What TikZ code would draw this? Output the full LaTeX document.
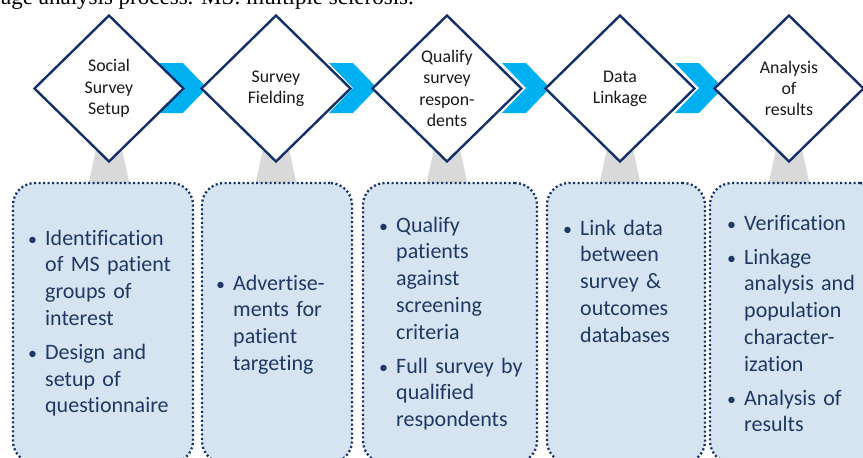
\documentclass[tikz,border=0pt]{standalone}
\usepackage{fontspec}
\setmainfont{Carlito}[Ligatures={NoCommon,NoRare}]
\newfontfamily\capfont{Liberation Serif}
\usetikzlibrary{shapes.geometric}

\definecolor{navy}{HTML}{1F3864}
\definecolor{edgeblue}{HTML}{14306A}
\definecolor{chev}{HTML}{00B0F0}
\definecolor{stem}{HTML}{D9D9D9}
\definecolor{panel}{HTML}{D6E4F2}

% bullet item with hanging indent; lines inside an item are split with \newline
\newcommand{\bulmark}{\makebox[13pt][l]{\hspace{-4pt}\fontsize{18}{18}\selectfont\textbullet}}
\newcommand{\li}[1]{\par\hangindent=13pt\hangafter=1\noindent\bulmark#1\par}
\newcommand{\gap}{\vspace{7.3pt}}

\tikzset{
  stage/.style={shape=diamond, draw=edgeblue, line width=2.4pt, fill=white,
    minimum width=150pt, minimum height=147pt, inner sep=0pt, align=center,
    text=black!90, font=\fontsize{17.8}{21.3}\selectfont},
  infobox/.style={draw=edgeblue, fill=panel, line width=2.3pt,
    dash pattern=on 2pt off 2.5pt, rounded corners=22pt, inner sep=0pt},
  listtext/.style={text=navy, font=\fontsize{22}{26.7}\selectfont,
    text width=170pt, align=left, inner sep=0pt, anchor=base west},
  chevron/.style={fill=chev, draw=none},
  stemshape/.style={fill=stem, draw=none}
}

\begin{document}
\begin{tikzpicture}[x=1pt, y=-1pt]
\useasboundingbox (0,0) rectangle (863,458);
\clip (0,0) rectangle (863,458);

% caption line running along the top edge
\node[anchor=base west, inner sep=0pt, font=\capfont\fontsize{23}{23}\selectfont]
  (caption) at (1,4) {age analysis process. MS: multiple sclerosis.};

% grey stems joining each stage to its panel
\foreach \cx in {109,276,447,620,789}{
  \fill[stemshape] (\cx-11,140) -- (\cx+11,140) -- (\cx+21,186) -- (\cx-21,186) -- cycle;
}

% detail panels
\node[infobox, minimum width=180pt, minimum height=280pt] (b1) at (103,323) {};
\node[infobox, minimum width=150pt, minimum height=280pt] (b2) at (277,323) {};
\node[infobox, minimum width=174pt, minimum height=280pt] (b3) at (450,323) {};
\node[infobox, minimum width=158pt, minimum height=280pt] (b4) at (626,323) {};
\node[infobox, minimum width=172pt, minimum height=280pt] (b5) at (796,323) {};

% chevrons between stages
\foreach \lx in {159,329,502,675}{
  \fill[chevron] (\lx,63) -- (\lx+24,63) -- (\lx+48,88) -- (\lx+24,113)
    -- (\lx,113) -- (\lx+24,88) -- cycle;
}

% stages
\node[stage] (s1) at (109,88.5) {Social\\Survey\\Setup};
\node[stage] (s2) at (276,88.5) {Survey\\Fielding};
\node[stage] (s3) at (447,88.5) {Qualify\\survey\\respon-\\dents};
\node[stage] (s4) at (620,88.5) {Data\\Linkage};
\node[stage] (s5) at (789,88.5) {Analysis\\of\\results};

% panel contents
\node[listtext] (t1) at (32,218.5) {%
  \li{Identification\newline of MS patient\newline groups of\newline interest}\gap
  \li{Design and\newline setup of\newline questionnaire}};
\node[listtext] (t2) at (220,263.5) {%
  \li{Advertise-\newline ments for\newline patient\newline targeting}};
\node[listtext] (t3) at (383,205.5) {%
  \li{Qualify\newline patients\newline against\newline screening\newline criteria}\gap
  \li{Full survey by\newline qualified\newline respondents}};
\node[listtext] (t4) at (567,208.5) {%
  \li{Link data\newline between\newline survey \&\newline outcomes\newline databases}};
\node[listtext] (t5) at (731,203.5) {%
  \li{Verification}\gap
  \li{Linkage\newline analysis and\newline population\newline character-\newline ization}\gap
  \li{Analysis of\newline results}};
\end{tikzpicture}
\end{document}
